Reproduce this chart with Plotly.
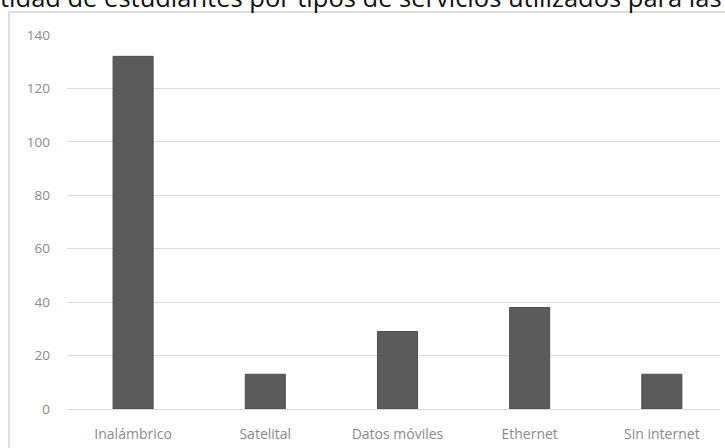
import plotly.graph_objects as go

# Survey results: connection type used for classes
categorias = ["Inalámbrico", "Satelital", "Datos móviles", "Ethernet", "Sin internet"]
estudiantes = [132, 13, 29, 38, 13]
y_ticks = [0, 20, 40, 60, 80, 100, 120, 140]
titulo = "tidad de estudiantes por tipos de servicios utilizados para las"

W, H = 725, 448
L, R, T, B = 67, 5, 35, 39
plot_w = W - L - R
plot_h = H - T - B


def px_x(p):
    return (p - L) / plot_w


def px_y(p):
    return (H - B - p) / plot_h


fig = go.Figure(
    go.Bar(
        x=categorias,
        y=estudiantes,
        marker=dict(color="#5b5b5b", line=dict(color="#4d4d4d", width=1)),
        hoverinfo="x+y",
    )
)

fig.update_layout(
    width=W,
    height=H,
    margin=dict(l=L, r=R, t=T, b=B),
    paper_bgcolor="white",
    plot_bgcolor="white",
    bargap=0.697,
    showlegend=False,
    font=dict(family="Open Sans", color="#8a8a8a", size=13),
    shapes=[
        dict(
            type="rect",
            xref="paper",
            yref="paper",
            x0=px_x(9),
            x1=px_x(W + 5),
            y0=px_y(H + 5),
            y1=px_y(12),
            line=dict(color="#d4d4d4", width=1.5),
            fillcolor="rgba(0,0,0,0)",
            layer="below",
        )
    ],
    annotations=[
        dict(
            text=titulo,
            xref="paper",
            yref="paper",
            x=px_x(-2),
            y=px_y(16),
            xanchor="left",
            yanchor="bottom",
            showarrow=False,
            font=dict(family="Open Sans", size=25.5, color="#111111"),
        )
    ],
)

fig.update_xaxes(
    range=[-0.5, 4.44],
    showgrid=False,
    showline=True,
    linecolor="#d9d9d9",
    linewidth=1,
    ticks="",
    ticklabelstandoff=12,
    tickfont=dict(family="Open Sans", size=14, color="#8a8a8a"),
    fixedrange=True,
)

fig.update_yaxes(
    range=[0, 140],
    tickvals=y_ticks,
    showgrid=True,
    gridcolor="#dcdcdc",
    gridwidth=1,
    zeroline=False,
    showline=False,
    ticks="",
    ticklabelstandoff=16,
    tickfont=dict(family="Open Sans", size=13.5, color="#8a8a8a"),
    fixedrange=True,
)

fig.write_html("out.html", config={"displayModeBar": False})
